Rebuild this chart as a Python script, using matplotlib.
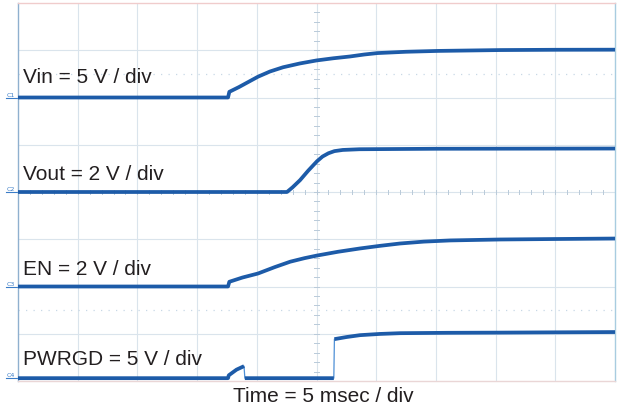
import matplotlib
matplotlib.use("Agg")
import matplotlib.pyplot as plt
import numpy as np

# ---- data (time in ms, 5 ms/div, 10 divisions) ----
time_vin = [0, 17.59, 17.7, 18.5, 19.3, 20.1, 21.1, 22.2, 23.6, 25.0, 26.4, 27.8,
            29.0, 30.1, 32.5, 35.2, 40.4, 45.0, 50]
vin = [0, 0, 0.6, 1.1, 1.65, 2.2, 2.75, 3.2, 3.6, 3.92, 4.15, 4.34,
       4.55, 4.7, 4.84, 4.93, 5.02, 5.05, 5.06]

time_vout = [0, 22.53, 23.0, 23.62, 24.3, 25.04, 25.5, 26.0, 26.5, 27.2, 28.6, 35.0, 50]
vout = [0, 0, 0.2, 0.5, 0.9, 1.3, 1.5, 1.64, 1.73, 1.78, 1.81, 1.83, 1.84]

time_en = [0, 17.59, 17.7, 18.8, 20.1, 21.5, 22.8, 24.0, 25.04, 26.8, 28.64, 30.3,
           31.99, 34.0, 36.2, 40.4, 45.0, 50]
en = [0, 0, 0.2, 0.38, 0.55, 0.82, 1.05, 1.2, 1.31, 1.47, 1.61, 1.72,
      1.82, 1.9, 1.95, 1.99, 2.01, 2.03]

time_pg = [0, 17.59, 17.65, 18.3, 18.93, 19.0, 26.45, 26.5, 27.5, 28.64, 30.3, 31.99,
           36.0, 40.4, 45.0, 50]
pwrgd = [0, 0, 0.3, 0.9, 1.27, 0, 0, 4.13, 4.35, 4.55, 4.68, 4.76,
         4.8, 4.82, 4.85, 4.88]

# volts per division and channel offsets (divisions)
scales = [5, 2, 2, 5]
offsets = [6.0, 4.0, 2.0, 0.06]
labels = ["Vin = 5 V / div", "Vout = 2 V / div", "EN = 2 V / div", "PWRGD = 5 V / div"]
channel_names = ["C1", "C2", "C3", "C4"]
label_y = [6.45, 4.39, 2.39, 0.48]
xlabel = "Time = 5 msec / div"

trace_color = "#1d5ba8"
grid_color = "#dae4ec"

fig = plt.figure(figsize=(6.18, 4.10), dpi=100)
ax = fig.add_axes([18 / 618, 28 / 410, 597 / 618, 378 / 410])
ax.set_xlim(0, 50)
ax.set_ylim(0, 8)

# grid
for i in range(1, 10):
    ax.axvline(i * 5, color=grid_color, lw=0.8, zorder=1)
for j in range(1, 8):
    ax.axhline(j, color=grid_color, lw=0.8, zorder=1)
# dotted auxiliary lines
for yy in (6.5, 1.5):
    ax.axhline(yy, color="#c8d8e6", lw=0.9, ls=(0, (1, 5)), zorder=1)
# center minor ticks
for k in np.arange(0, 8.01, 0.2):
    ax.plot([24.8, 25.2], [k, k], color="#b9cad9", lw=0.7, zorder=1)
for k in np.arange(0, 50.01, 1.0):
    ax.plot([k, k], [3.96, 4.04], color="#b9cad9", lw=0.7, zorder=1)

ax.set_xticks([])
ax.set_yticks([])
ax.spines["left"].set_color("#8fb0cf")
ax.spines["right"].set_color("#a8cce0")
ax.spines["top"].set_color("#f0cccc")
ax.spines["bottom"].set_color("#ead6d6")
for s in ax.spines.values():
    s.set_linewidth(1.0)

def to_div(vals, ch):
    return np.array(vals) / scales[ch] + offsets[ch]

series = [(time_vin, vin), (time_vout, vout), (time_en, en), (time_pg, pwrgd)]
for ch, (t, v) in enumerate(series):
    t = np.array(t, dtype=float)
    d = to_div(v, ch)
    # thin line for everything (edges)
    ax.plot(t, d, color="#4d8fd6", lw=0.9, zorder=3)
    # thick line, broken at vertical edges
    tt, dd = [t[0]], [d[0]]
    for i in range(1, len(t)):
        if (t[i] - t[i - 1]) < 0.1 and abs(d[i] - d[i - 1]) > 0.15:
            tt.append(np.nan); dd.append(np.nan)
        tt.append(t[i]); dd.append(d[i])
    ax.plot(tt, dd, color=trace_color, lw=2.7, zorder=4, solid_capstyle="butt",
            solid_joinstyle="round")

# channel labels
for ch in range(4):
    ax.text(0.4, label_y[ch], labels[ch], fontsize=15, family="Liberation Sans",
            color="#231f20", va="center", ha="left", zorder=5)
    y = offsets[ch]
    ax.text(-0.95, y + 0.02, channel_names[ch], fontsize=4.5, color="#3a7cc7",
            ha="left", va="bottom", clip_on=False, family="DejaVu Sans")
    ax.plot([-1.0, 0.0], [y, y], color="#3a7cc7", lw=0.8, clip_on=False)

fig.text(323.5 / 618, 1 - 397 / 410, xlabel, fontsize=15, family="Liberation Sans",
         color="#231f20", ha="center", va="center")

fig.savefig("out.png", dpi=100)
